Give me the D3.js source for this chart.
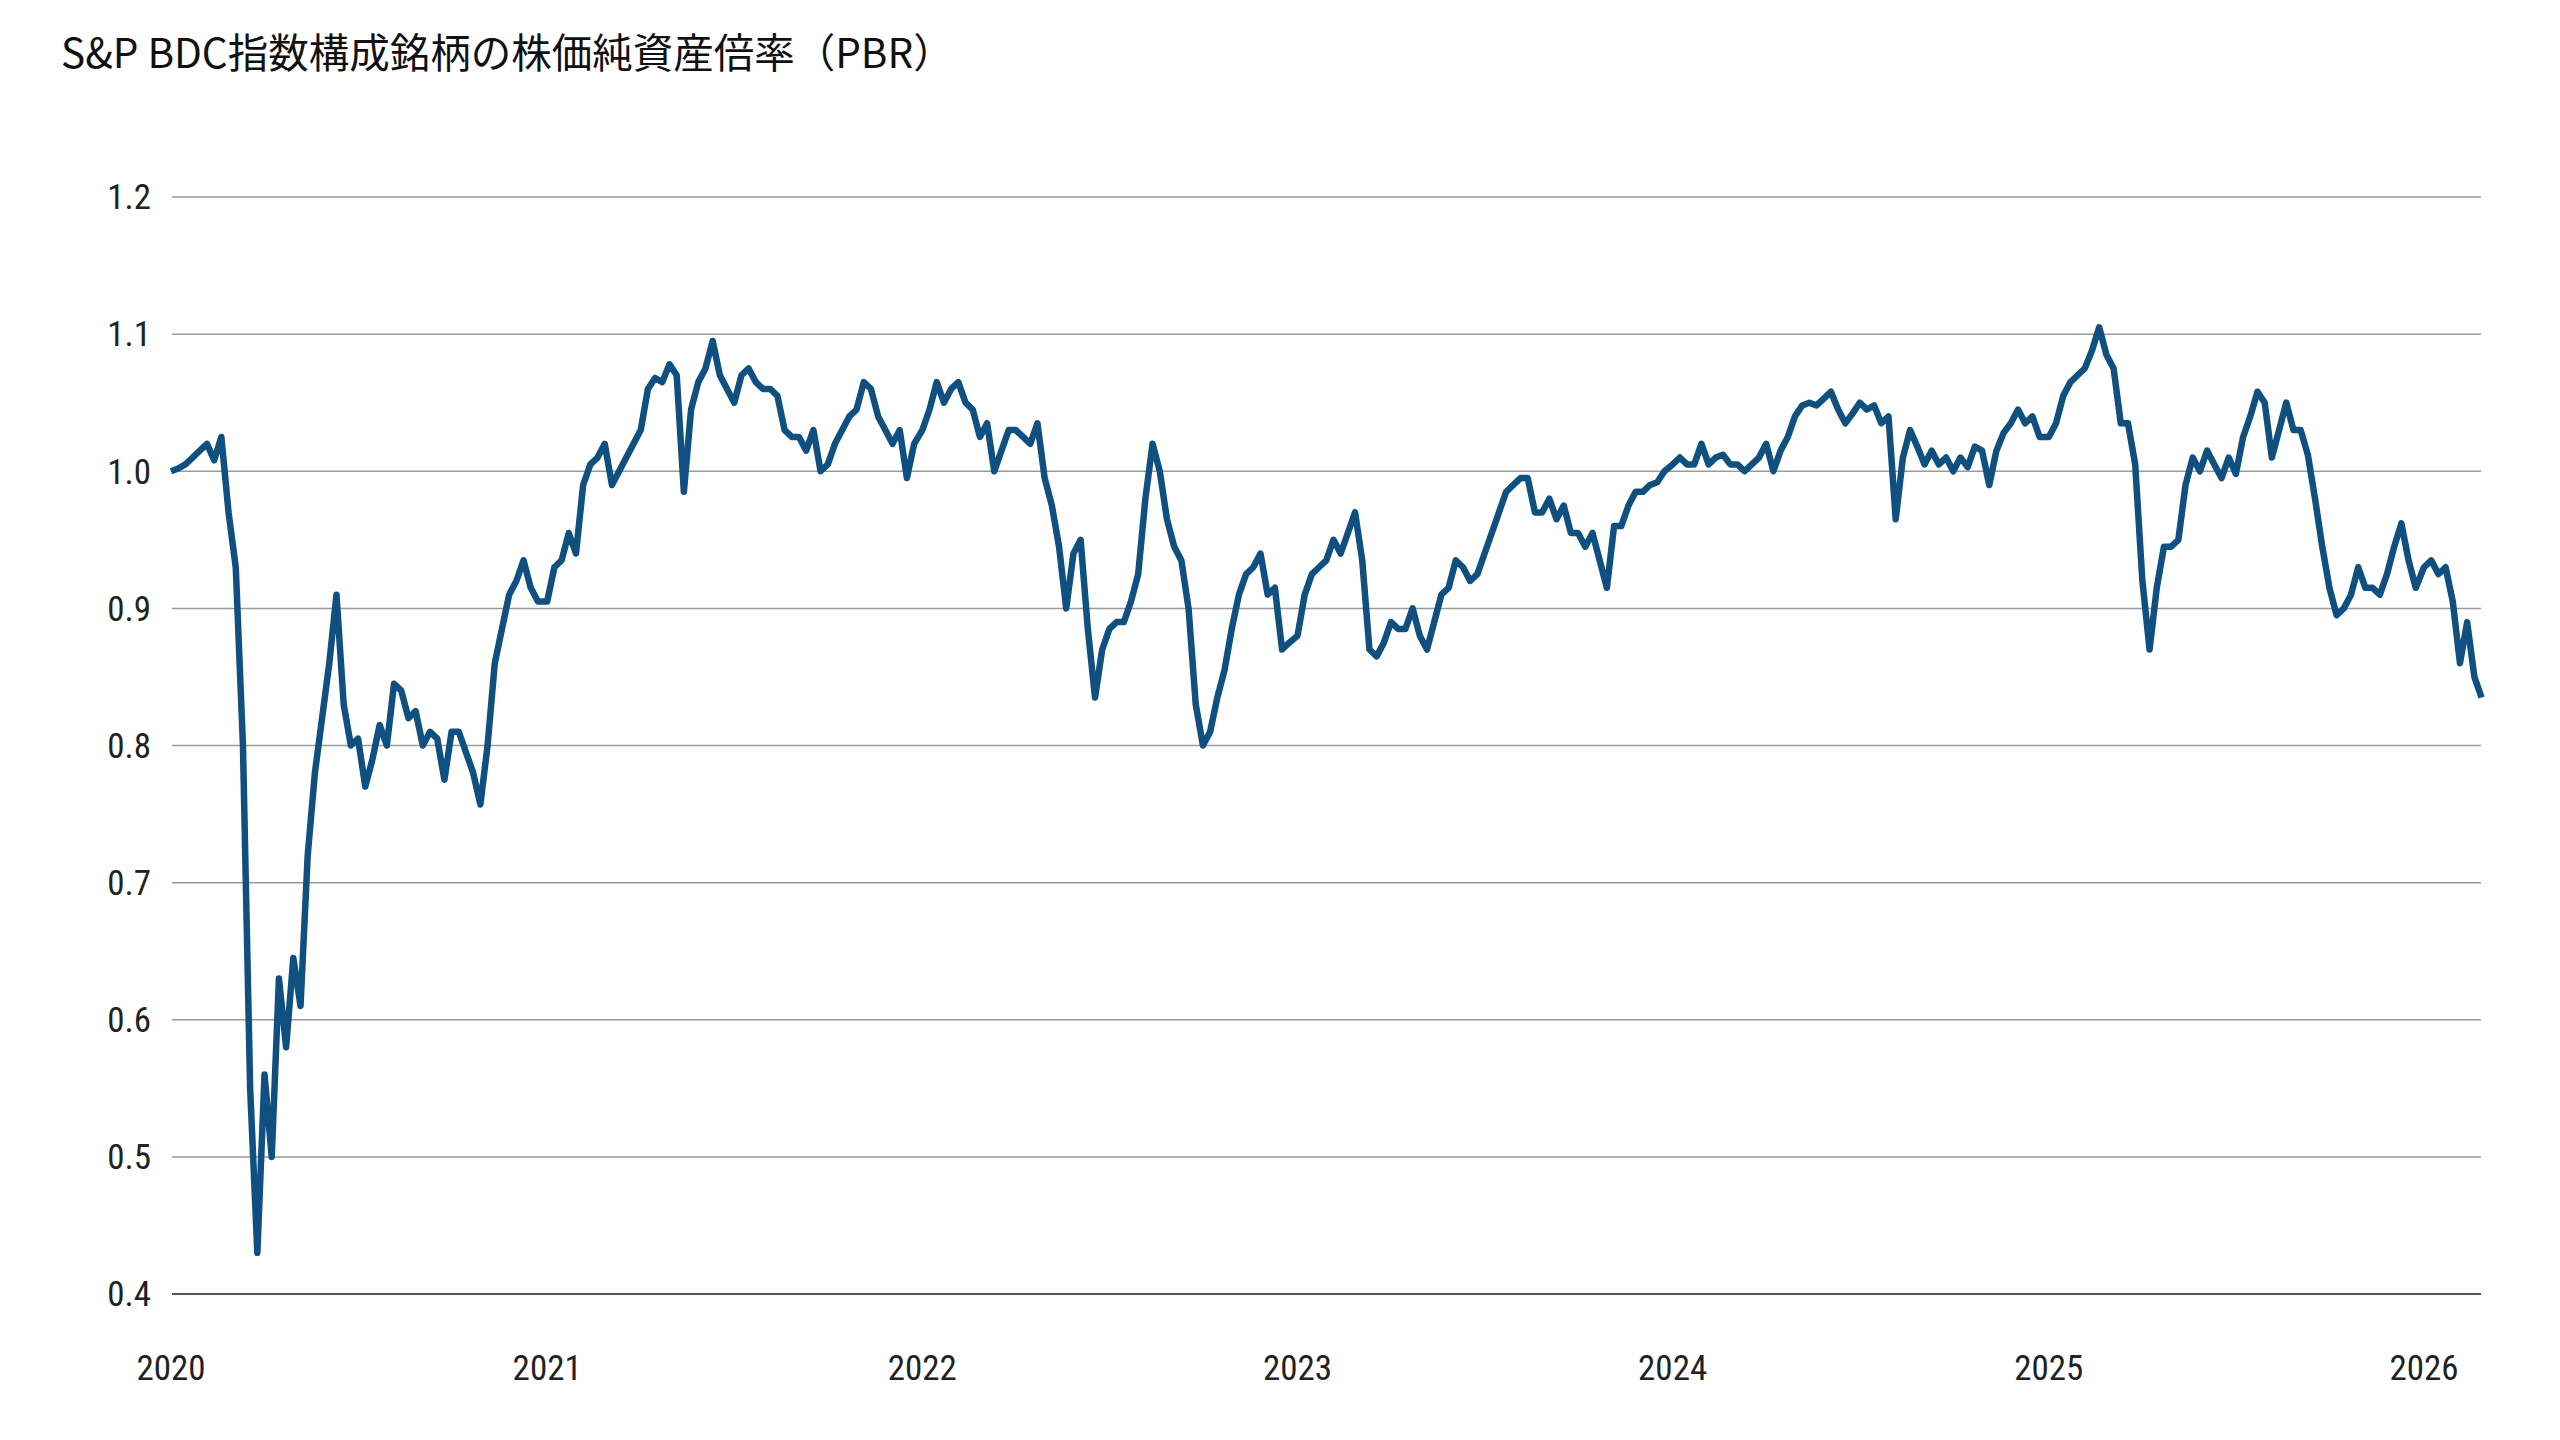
<!DOCTYPE html>
<html><head><meta charset="utf-8">
<script src="https://cdn.jsdelivr.net/npm/d3@7"></script>
<style>body{margin:0;background:#fff}svg{display:block}</style>
</head><body><svg id="c" width="2560" height="1440"></svg>
<script>
const title = "S&P BDC指数構成銘柄の株価純資産倍率（PBR）";
const yTicks = [0.4,0.5,0.6,0.7,0.8,0.9,1.0,1.1,1.2];
const xTickYears = [2020,2021,2022,2023,2024,2025,2026];
// weekly values, week i of each year starts Jan 1 + 7*i days
const w2020 = [1.00,1.002,1.005,1.01,1.015,1.02,1.008,1.025,0.97,0.93,0.80,0.55,0.43,0.56,0.50,0.63,0.58,0.645,0.61,0.72,0.78,0.82,0.86,0.91,0.83,0.80,0.805,0.77,0.79,0.815,0.80,0.845,0.84,0.82,0.825,0.80,0.81,0.805,0.775,0.81,0.81,0.795,0.78,0.757,0.80,0.86,0.885,0.91,0.92,0.935,0.915,0.905];
const w2021 = [0.905,0.93,0.935,0.955,0.94,0.99,1.005,1.01,1.02,0.99,1.00,1.01,1.02,1.03,1.06,1.068,1.065,1.078,1.07,0.985,1.045,1.065,1.075,1.095,1.07,1.06,1.05,1.07,1.075,1.065,1.06,1.06,1.055,1.03,1.025,1.025,1.015,1.03,1.0,1.005,1.02,1.03,1.04,1.045,1.065,1.06,1.04,1.03,1.02,1.03,0.995,1.02];
const w2022 = [1.03,1.045,1.065,1.05,1.06,1.065,1.05,1.045,1.025,1.035,1.0,1.015,1.03,1.03,1.025,1.02,1.035,0.995,0.975,0.945,0.90,0.94,0.95,0.885,0.835,0.87,0.885,0.89,0.89,0.905,0.925,0.98,1.02,1.0,0.965,0.945,0.935,0.90,0.83,0.80,0.81,0.835,0.855,0.885,0.91,0.925,0.93,0.94,0.91,0.915,0.87,0.875];
const w2023 = [0.88,0.91,0.925,0.93,0.935,0.95,0.94,0.955,0.97,0.935,0.87,0.865,0.875,0.89,0.885,0.885,0.90,0.88,0.87,0.89,0.91,0.915,0.935,0.93,0.92,0.925,0.94,0.955,0.97,0.985,0.99,0.995,0.995,0.97,0.97,0.98,0.965,0.975,0.955,0.955,0.945,0.955,0.935,0.915,0.96,0.96,0.975,0.985,0.985,0.99,0.992,1.0];
const w2024 = [1.005,1.01,1.005,1.005,1.02,1.005,1.01,1.012,1.005,1.005,1.0,1.005,1.01,1.02,1.0,1.015,1.025,1.04,1.048,1.05,1.048,1.053,1.058,1.045,1.035,1.042,1.05,1.045,1.048,1.035,1.04,0.965,1.01,1.03,1.018,1.005,1.015,1.005,1.01,1.0,1.01,1.003,1.018,1.015,0.99,1.015,1.028,1.035,1.045,1.035,1.04,1.025];
const w2025 = [1.025,1.035,1.055,1.065,1.07,1.075,1.088,1.105,1.085,1.075,1.035,1.035,1.005,0.92,0.87,0.915,0.945,0.945,0.95,0.99,1.01,1.0,1.015,1.005,0.995,1.01,0.998,1.025,1.04,1.058,1.05,1.01,1.03,1.05,1.03,1.03,1.012,0.98,0.945,0.915,0.895,0.9,0.91,0.93,0.915,0.915,0.91,0.925,0.945,0.962,0.935,0.915];
const w2026 = [0.93,0.935,0.925,0.93,0.905,0.86,0.89,0.85,0.835];

const series = [[2020,w2020],[2021,w2021],[2022,w2022],[2023,w2023],[2024,w2024],[2025,w2025],[2026,w2026]];
const data = [];
series.forEach(([yr,arr])=>arr.forEach((v,i)=>data.push({d:new Date(yr,0,1+7*i),v})));

const svg = d3.select("#c");
const L=172, R=2481, T=197, B=1294;
const x = d3.scaleTime().domain([new Date(2020,0,1),new Date(2026,0,1)]).range([171,2424]);
const y = d3.scaleLinear().domain([0.4,1.2]).range([B,T]);

svg.append("text").attr("x",61).attr("y",68).attr("font-family","'Noto Sans CJK JP'")
  .attr("font-size",40.5).attr("fill","#111").text(title);

svg.append("g").selectAll("line").data(yTicks).join("line")
  .attr("x1",L).attr("x2",R).attr("y1",d=>y(d)).attr("y2",d=>y(d))
  .attr("stroke",d=>d===0.4?"#555":"#9a9a9a").attr("stroke-width",d=>d===0.4?2:1.5);

const fnt="'Liberation Sans Narrow','Roboto Condensed',Roboto,sans-serif";
svg.append("g").selectAll("text").data(yTicks).join("text")
  .attr("x",151).attr("y",d=>y(d)).attr("dy","0.35em").attr("text-anchor","end")
  .attr("font-family",fnt).attr("font-size",35).attr("fill","#222").text(d=>d.toFixed(1));

svg.append("g").selectAll("text").data(xTickYears).join("text")
  .attr("x",d=>x(new Date(d,0,1))).attr("y",1380).attr("text-anchor","middle")
  .attr("font-family",fnt).attr("font-size",35).attr("fill","#222").text(d=>d);

svg.append("path").datum(data).attr("fill","none").attr("stroke","#0f5080")
  .attr("stroke-width",6.5).attr("stroke-linejoin","round")
  .attr("d",d3.line().x(d=>x(d.d)).y(d=>y(d.v)));
</script></body></html>
